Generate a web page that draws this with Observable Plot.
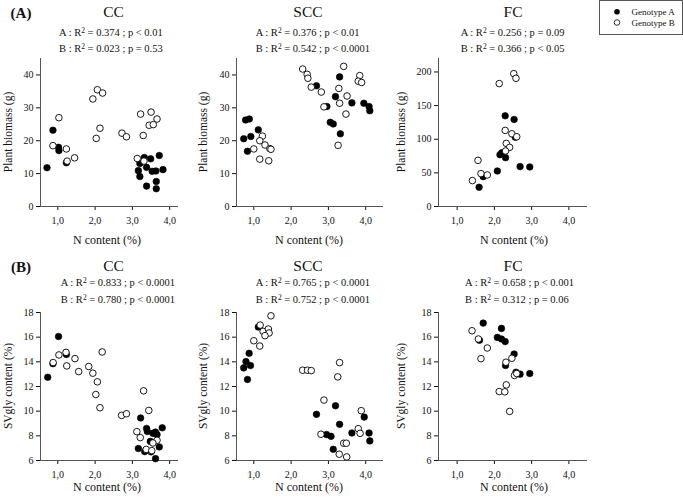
<!DOCTYPE html>
<html><head><meta charset="utf-8">
<script src="https://cdn.jsdelivr.net/npm/d3@7"></script>
<script src="https://cdn.jsdelivr.net/npm/@observablehq/plot@0.6"></script>
<style>
body{margin:0;background:#fff;}
#c{position:relative;width:683px;height:502px;overflow:hidden;font-family:"Liberation Serif","Times New Roman",serif;color:#111;}
.t{position:absolute;white-space:nowrap;line-height:1;}
</style></head><body><div id="c"></div>
<script>
// ---- data ----
const panelTitles = ["CC", "SCC", "FC"];
const rowLetters = ["(A)", "(B)"];
const xLabel = "N content (%)";
const yLabels = ["Plant biomass (g)", "SVgly content (%)"];
const legendLabels = ["Genotype A", "Genotype B"];
const xTicks = [1, 2, 3, 4];
const bioTicks = [0, 10, 20, 30, 40];
const fcBioTicks = [0, 50, 100, 150, 200];
const svTicks = [6, 8, 10, 12, 14, 16, 18];

const statsA = [["0.374","< 0.01"],["0.376","< 0.01"],["0.256","= 0.09"],["0.833","< 0.0001"],["0.765","< 0.0001"],["0.658","< 0.001"]];
const statsB = [["0.023","= 0.53"],["0.542","< 0.0001"],["0.366","< 0.05"],["0.780","< 0.0001"],["0.752","< 0.0001"],["0.312","= 0.06"]];

const ccBioA = [[0.71,11.8],[0.87,23.2],[1.02,18.0],[1.03,17.0],[1.23,13.3],[3.32,14.9],[3.72,15.5],[3.49,14.5],[3.20,13.1],[3.38,11.9],[3.16,10.9],[3.53,10.7],[3.63,10.8],[3.82,11.2],[3.20,9.1],[3.38,6.2],[3.64,7.6],[3.64,5.4]];
const ccBioB = [[1.03,27.0],[0.87,18.5],[1.23,17.5],[1.25,13.8],[1.45,14.8],[2.06,35.5],[2.20,34.5],[1.94,32.7],[2.13,23.8],[2.03,20.7],[2.72,22.3],[2.84,21.2],[3.22,28.1],[3.50,28.7],[3.66,26.6],[3.45,24.7],[3.56,24.9],[3.29,21.6],[3.13,14.6],[3.31,13.8]];
const sccBioA = [[0.78,26.3],[0.88,26.6],[1.12,23.3],[0.73,20.6],[0.92,21.3],[0.83,16.8],[2.68,36.7],[3.30,39.4],[3.19,33.4],[3.63,31.5],[2.96,30.4],[3.95,31.4],[4.09,30.4],[4.11,29.1],[3.05,25.6],[3.13,25.1],[3.32,22.1]];
const sccBioB = [[1.23,21.4],[1.16,20.0],[1.30,18.7],[1.43,17.6],[1.46,17.4],[1.00,17.5],[1.16,14.4],[1.40,13.9],[2.31,41.8],[2.43,40.2],[2.45,39.0],[2.54,36.3],[2.81,34.8],[3.41,42.6],[3.84,39.8],[3.80,38.1],[3.89,37.7],[3.28,35.9],[3.50,33.6],[3.30,31.4],[2.88,30.3],[3.47,28.1],[3.26,18.6]];
const fcBioA = [[2.29,134.8],[2.53,129.4],[2.56,103],[2.15,77],[2.20,80],[2.30,72.6],[2.69,59.3],[2.95,58.8],[2.08,52.8],[1.70,44.4],[1.59,28.6]];
const fcBioB = [[2.52,197.5],[2.58,190.6],[2.13,182.7],[2.29,113.1],[2.47,108.1],[2.60,103.7],[2.32,93.8],[2.41,87.9],[2.30,82.5],[1.56,68.6],[1.64,48.9],[1.81,46.9],[1.41,38.5]];
const ccSvA = [[0.73,12.75],[0.87,13.85],[1.02,16.05],[1.23,14.6],[3.22,9.45],[3.38,8.6],[3.40,8.35],[3.55,8.2],[3.62,8.3],[3.66,8.1],[3.80,8.65],[3.48,7.55],[3.72,7.1],[3.16,6.97],[3.33,6.72],[3.50,6.7],[3.62,6.15]];
const ccSvB = [[0.875,13.94],[1.03,14.56],[1.22,14.77],[1.46,14.26],[1.24,13.67],[1.56,13.21],[1.83,13.62],[1.94,13.08],[2.06,12.38],[2.02,11.35],[2.13,10.28],[2.19,14.80],[2.71,9.66],[2.84,9.79],[3.30,11.65],[3.44,10.06],[3.12,8.34],[3.21,7.86],[3.66,7.64],[3.55,7.42],[3.37,6.9],[3.52,6.8]];
const sccSvA = [[1.12,16.82],[0.875,14.69],[0.79,14.02],[0.91,13.70],[0.73,13.51],[0.83,12.57],[2.68,9.74],[3.19,10.44],[3.30,8.93],[3.96,9.52],[2.95,8.10],[3.07,7.96],[3.63,8.23],[4.09,8.23],[4.11,7.59],[3.13,6.91]];
const sccSvB = [[1.46,17.73],[1.17,16.98],[1.25,16.47],[1.39,16.66],[1.41,16.34],[1.30,16.12],[1.00,15.71],[1.16,15.28],[2.31,13.32],[2.44,13.32],[2.54,13.29],[3.30,13.94],[3.25,12.78],[2.88,10.9],[3.88,10.04],[3.80,8.58],[3.85,8.2],[2.80,8.13],[3.41,7.4],[3.48,7.4],[3.29,6.51],[3.49,6.29]];
const fcSvA = [[1.70,17.14],[2.19,16.71],[2.08,15.98],[2.19,15.85],[2.29,15.64],[1.60,15.75],[2.53,14.63],[2.30,13.70],[2.58,13.16],[2.69,13.0],[2.95,13.05]];
const fcSvB = [[1.40,16.52],[1.57,15.85],[1.81,15.12],[1.64,14.26],[2.47,14.29],[2.31,13.97],[2.54,12.9],[2.60,13.05],[2.32,12.13],[2.13,11.59],[2.28,11.57],[2.41,9.98]];

// ---- layout ----
const C = document.getElementById("c");
const FONT = '"Liberation Serif","Times New Roman",serif';
const cols = [
  {L: 40, R: 178, xDom: [0.536, 4.236], titleX: 113.5, xLabX: 107, yLabX: 8.5, sub: [59, 60.7]},
  {L: 236, R: 383, xDom: [0.536, 4.477], titleX: 308, xLabX: 309, yLabX: 204, sub: [255.7, 255.7]},
  {L: 438, R: 587, xDom: [0.5, 4.5], titleX: 513, xLabX: 514, yLabX: 402, sub: [460.7, 465]}
];
const rows = [
  {T: 58, B: 206, titleY: 12, sub1: 33, sub2: 49, xLabY: 240, yLabY: 132},
  {T: 312, B: 460, titleY: 266, sub1: 283, sub2: 300, xLabY: 487, yLabY: 386}
];
const panels = [
  {A: ccBioA, B: ccBioB, yDom: [0, 45], yTicks: bioTicks},
  {A: sccBioA, B: sccBioB, yDom: [0, 45], yTicks: bioTicks},
  {A: fcBioA, B: fcBioB, yDom: [0, 220], yTicks: fcBioTicks},
  {A: ccSvA, B: ccSvB, yDom: [6, 18], yTicks: svTicks},
  {A: sccSvA, B: sccSvB, yDom: [6, 18], yTicks: svTicks},
  {A: fcSvA, B: fcSvB, yDom: [6, 18], yTicks: svTicks}
];

function txt(html, x, y, size, opts = {}) {
  const d = document.createElement("div");
  d.className = "t";
  d.innerHTML = html;
  d.style.left = x + "px";
  d.style.top = y + "px";
  d.style.fontSize = size + "px";
  d.style.transform = opts.transform || "translate(-50%,-50%)";
  if (opts.bold) d.style.fontWeight = "bold";
  C.appendChild(d);
  return d;
}
const fmt = d => d.toFixed(1).replace(".", ",");
const sup = '<span style="font-size:0.72em;position:relative;top:-0.45em">2</span>';

panels.forEach((p, i) => {
  const col = cols[i % 3], row = rows[Math.floor(i / 3)];
  const ml = 40, mr = 4, mt = 4, mb = 22;
  const chart = Plot.plot({
    width: col.R - col.L + ml + mr,
    height: row.B - row.T + mt + mb,
    marginLeft: ml, marginRight: mr, marginTop: mt, marginBottom: mb,
    style: {fontFamily: FONT, fontSize: "10px", background: "none", color: "#111", overflow: "visible"},
    x: {domain: col.xDom, ticks: xTicks, tickFormat: fmt, label: null, tickSize: 4, tickPadding: 6.5},
    y: {domain: p.yDom, ticks: p.yTicks, label: null, tickSize: 4, tickPadding: 3},
    marks: [
      Plot.ruleX([col.xDom[0]], {stroke: "#555"}),
      Plot.ruleY([p.yDom[0]], {stroke: "#555"}),
      Plot.dot(p.A, {x: d => d[0], y: d => d[1], r: 3.3, fill: "#000", stroke: "#000", strokeWidth: 0.6}),
      Plot.dot(p.B, {x: d => d[0], y: d => d[1], r: 3.3, fill: "#fff", stroke: "#000", strokeWidth: 0.9})
    ]
  });
  chart.style.position = "absolute";
  chart.style.left = (col.L - ml) + "px";
  chart.style.top = (row.T - mt) + "px";
  C.appendChild(chart);

  const r = Math.floor(i / 3);
  txt(panelTitles[i % 3], col.titleX, row.titleY, 15.5);
  txt(`A : R${sup} = ${statsA[i][0]} ; p ${statsA[i][1]}`, col.sub[r], row.sub1, 10.5, {transform: "translate(0,-50%)"});
  txt(`B : R${sup} = ${statsB[i][0]} ; p ${statsB[i][1]}`, col.sub[r], row.sub2, 10.5, {transform: "translate(0,-50%)"});
  txt(xLabel, col.xLabX, row.xLabY, 12);
  txt(yLabels[r], col.yLabX, row.yLabY, 11.5, {transform: "translate(-50%,-50%) rotate(-90deg)"});
});
rowLetters.forEach((l, r) => txt(l, 21, rows[r].titleY + 1, 15, {bold: true}));

// legend
const lg = document.createElement("div");
lg.style.cssText = "position:absolute;left:599px;top:0px;width:84px;height:35px;border:1px solid #555;box-sizing:border-box;background:#fff;";
C.appendChild(lg);
const lsvg = d3.create("svg").attr("width", 20).attr("height", 35)
  .style("position", "absolute").style("left", "607px").style("top", "0px");
lsvg.append("circle").attr("cx", 10).attr("cy", 11.7).attr("r", 2.8).attr("fill", "#000");
lsvg.append("circle").attr("cx", 10).attr("cy", 22.5).attr("r", 2.8).attr("fill", "#fff").attr("stroke", "#000").attr("stroke-width", 0.8);
C.appendChild(lsvg.node());
legendLabels.forEach((l, k) => txt(l, 631.5, k ? 22.5 : 11.7, 9, {transform: "translate(0,-50%)"}));
</script></body></html>
